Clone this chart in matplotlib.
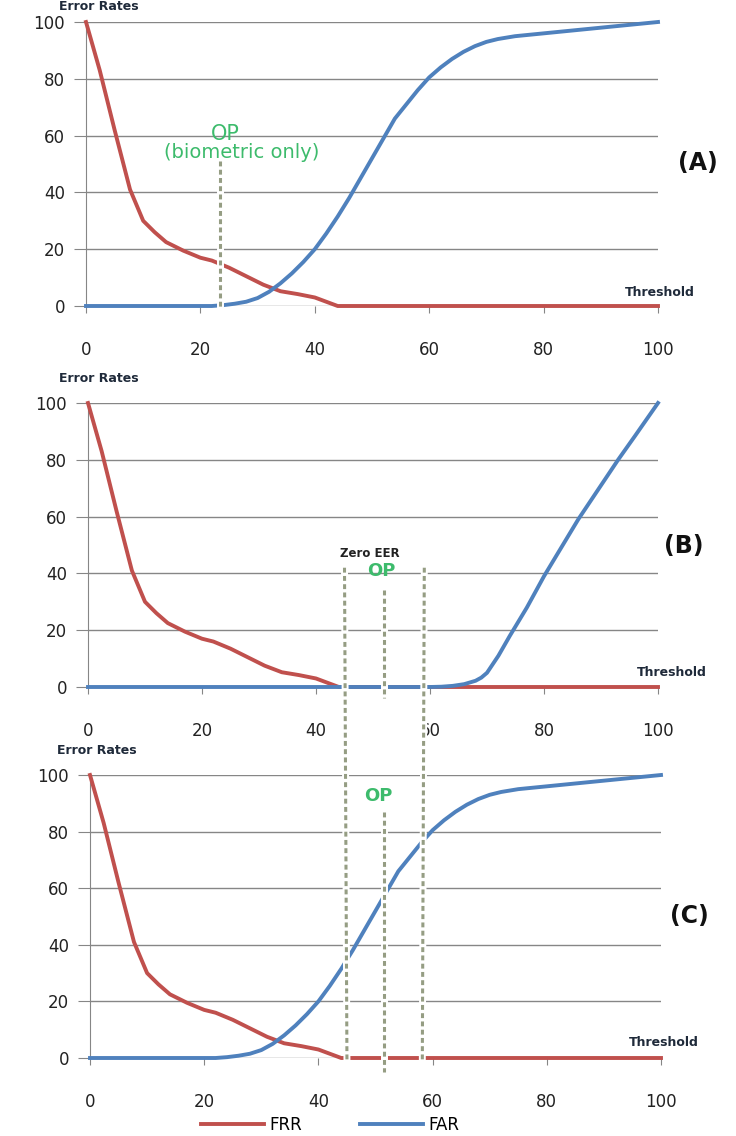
import matplotlib.pyplot as plt
from matplotlib.lines import Line2D
import numpy as np

# ---- data ----
frr_t = [0, 2.4, 5, 7.7, 10, 12, 14, 17, 20, 22, 25, 28, 31, 34, 37, 40, 42, 44, 100]
frr_v = [100, 83, 62, 41, 30, 26, 22.5, 19.5, 17, 16, 13.5, 10.5, 7.5, 5.2, 4.2, 3, 1.5, 0, 0]

far_t = [0, 22, 24, 26, 28, 30, 32, 34, 36, 38, 40, 42, 44, 46, 48, 50, 52, 54, 56, 58,
         60, 62, 64, 66, 68, 70, 72, 75, 80, 85, 90, 95, 100]
far_v = [0, 0, 0.3, 0.8, 1.5, 2.8, 5, 8, 11.5, 15.5, 20, 25.5, 31.5, 38, 45, 52, 59, 66, 71, 76,
         80.5, 84, 87, 89.5, 91.5, 93, 94, 95, 96, 97, 98, 99, 100]

far_b_t = [0, 60, 62, 64, 66, 68, 69, 70, 72, 74, 77, 80, 83, 86, 90, 93, 96, 100]
far_b_v = [0, 0, 0.1, 0.4, 1, 2.2, 3.3, 5, 11, 18, 28, 39, 49, 59, 71, 80, 88.5, 100]

op_a = 23.5
eer_lo, op_b, eer_hi = 45, 52, 59
op_c = 51.5

red = '#C0504D'
blue = '#4F81BD'
grid_c = '#868686'
dash_c = '#959D83'
green = '#3DBB6C'

plt.rc('font', family='DejaVu Sans')
fig = plt.figure(figsize=(7.36, 11.36), dpi=100)
W, H = 736.0, 1136.0


def make_ax(x0, x1, ytop, ybot):
  ax = fig.add_axes([x0 / W, 1 - ybot / H, (x1 - x0) / W, (ybot - ytop) / H])
  ax.set_xlim(0, 100)
  ax.set_ylim(0, 100)
  ax.set_yticks(range(0, 101, 20))
  ax.set_xticks(range(0, 101, 20))
  for y in range(0, 101, 20):
    ax.axhline(y, color=grid_c, lw=1, zorder=0.5)
  for s in ['top', 'right', 'bottom']:
    ax.spines[s].set_visible(False)
  ax.spines['left'].set_color(grid_c)
  ax.tick_params(axis='y', length=9, color=grid_c, labelsize=12, pad=6, labelcolor='#222222')
  ax.tick_params(axis='x', length=5, color=grid_c, labelsize=12, pad=20, labelcolor='#222222')
  return ax


axA = make_ax(86, 658, 22, 306)
axB = make_ax(88, 658, 403, 687)
axC = make_ax(90, 661, 775, 1058)

for ax, ft, fv in [(axA, far_t, far_v), (axB, far_b_t, far_b_v), (axC, far_t, far_v)]:
  ax.plot(frr_t, frr_v, color=red, lw=2.8, clip_on=False, zorder=3, solid_joinstyle='round')
  ax.plot(ft, fv, color=blue, lw=2.8, clip_on=False, zorder=3, solid_joinstyle='round')


def dashed(x0, y0, x1, y1, tr):
  fig.add_artist(Line2D([x0, x1], [y0, y1], transform=tr, color='white', lw=5, zorder=5))
  fig.add_artist(Line2D([x0, x1], [y0, y1], transform=tr, color=dash_c, lw=2.2,
                        ls=(0, (1.6, 1.1)), zorder=6))


def to_fig(ax, x, y):
  p = ax.transData.transform((x, y))
  return fig.transFigure.inverted().transform(p)


def span(axt, xt, yt, axb, xb, yb):
  a = to_fig(axt, xt, yt)
  b = to_fig(axb, xb, yb)
  dashed(a[0], a[1], b[0], b[1], fig.transFigure)


# (A) operating point
span(axA, op_a, 51, axA, op_a, -0.5)
# (B)/(C) zero EER band and operating points
span(axB, eer_lo, 42, axC, eer_lo, -1)
span(axB, eer_hi, 42, axC, eer_hi - 0.8, -1)
span(axB, op_b, 34, axB, op_b, -4)
span(axC, op_c, 87, axC, op_c, -5)

# texts
axA.text(op_a + 0.8, 60.5, 'OP', color=green, fontsize=15, ha='center', va='center', clip_on=False)
axA.text(op_a + 3.8, 54, '(biometric only)', color=green, fontsize=14, ha='center', va='center', clip_on=False)
axB.text(op_b - 0.5, 41, 'OP', color=green, fontsize=13, fontweight='bold', ha='center', va='center')
axB.text(eer_lo + 4.5, 47, 'Zero EER', color='#222222', fontsize=8.5, fontweight='bold', ha='center', va='center')
axC.text(op_c - 1, 92.5, 'OP', color=green, fontsize=13, fontweight='bold', ha='center', va='center')

for ax, lab, lx, ly in [(axA, '(A)', 698, 163), (axB, '(B)', 684, 546), (axC, '(C)', 689, 916)]:
  fig.text(lx / W, 1 - ly / H, lab, fontsize=17, fontweight='bold', ha='center', va='center', color='#111111')

for tx, ty in [(99, 7), (99, 379), (97, 751)]:
  fig.text(tx / W, 1 - ty / H, 'Error Rates', fontsize=9, fontweight='bold', ha='center', va='center', color='#1F2A3A')

for tx, ty in [(660, 293), (672, 672), (664, 1043)]:
  fig.text(tx / W, 1 - ty / H, 'Threshold', fontsize=9, fontweight='bold', ha='center', va='center', color='#1F2A3A')

handles = [Line2D([], [], color=red, lw=2.8), Line2D([], [], color=blue, lw=2.8)]
fig.legend(handles, ['FRR', 'FAR'], loc='center', bbox_to_anchor=(330 / W, 1 - 1125 / H), ncol=2,
           frameon=False, fontsize=12, handlelength=3.8, columnspacing=3.5, handletextpad=0.3)

fig.savefig('out.png', dpi=100, facecolor='white')
